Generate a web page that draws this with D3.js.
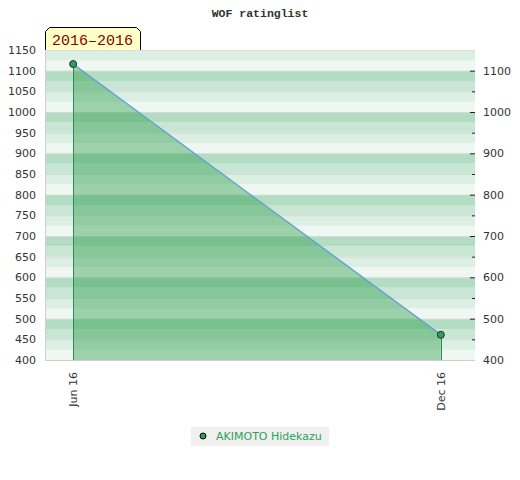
<!DOCTYPE html>
<html><head><meta charset="utf-8">
<script src="https://cdn.jsdelivr.net/npm/d3@7"></script>
<style>body{margin:0;background:#fff}svg{display:block}</style>
</head><body>
<svg id="c" width="520" height="480"></svg>
<script>
const title = "WOF ratinglist";
const rangeLabel = "2016–2016";
const playerName = "AKIMOTO Hidekazu";
const dateStrings = ["2016-06-01", "2016-12-01"];
const ratings = [1116, 461];
const yTicksLeft = [400,450,500,550,600,650,700,750,800,850,900,950,1000,1050,1100,1150];
const yTicksRight = [400,500,600,700,800,900,1000,1100];
const bandColors = ["#eef7f1", "#dcefe3", "#c8e6d3", "#b2ddc3"];

const parse = d3.timeParse("%Y-%m-%d");
const dates = dateStrings.map(parse);
const data = dates.map((d, i) => ({date: d, value: ratings[i]}));

const W = 520, H = 480;
const m = {left: 45, right: 475, top: 50, bottom: 360};
const svg = d3.select("#c");

const x = d3.scaleTime()
  .domain([new Date(2016, 4, 18), new Date(2016, 11, 18)])
  .range([m.left, m.right]);
const y = d3.scaleLinear().domain([400, 1150]).range([m.bottom, m.top]);

// title
svg.append("text").attr("x", 260).attr("y", 17).attr("text-anchor", "middle")
  .attr("font-family", "Liberation Mono").attr("font-weight", "bold").attr("font-size", 11.5)
  .attr("fill", "#333").text(title);

// bands
const bands = d3.range(400, 1150, 25);
svg.append("g").selectAll("rect").data(bands).join("rect")
  .attr("x", m.left).attr("width", m.right - m.left)
  .attr("y", d => y(d + 25)).attr("height", d => y(d) - y(d + 25))
  .attr("fill", d => bandColors[(d % 100) / 25]);

// grid lines
svg.append("g").selectAll("line").data(yTicksLeft.slice(1, -1)).join("line")
  .attr("x1", m.left).attr("x2", m.right)
  .attr("y1", d => y(d) + 0.5).attr("y2", d => y(d) + 0.5)
  .attr("stroke", "#d6d9d7").attr("stroke-width", 1);

// border
svg.append("path")
  .attr("d", `M${m.left + 0.5},${m.top}V${m.bottom + 0.5}H${m.right}`)
  .attr("fill", "none").attr("stroke", "#cfcfcf");
svg.append("line").attr("x1", m.left).attr("x2", m.right)
  .attr("y1", m.top + 0.5).attr("y2", m.top + 0.5).attr("stroke", "#dcdcdc");

// left axis labels
const yl = svg.append("g").attr("transform", `translate(${m.left},0)`)
  .call(d3.axisLeft(y).tickValues(yTicksLeft).tickSize(0).tickPadding(9).tickFormat(d3.format("d")));
yl.select(".domain").remove();
yl.selectAll("text").attr("font-family", "DejaVu Sans").attr("font-size", 11).attr("fill", "#333");

// right axis
const yr = svg.append("g").attr("transform", `translate(${m.right},0)`)
  .call(d3.axisRight(y).tickValues(yTicksRight).tickSize(0).tickPadding(8).tickFormat(d3.format("d")));
yr.select(".domain").remove();
yr.selectAll("text").attr("font-family", "DejaVu Sans").attr("font-size", 11).attr("fill", "#333");
svg.append("g").selectAll("line").data(yTicksLeft.slice(1, -1)).join("line")
  .attr("x1", d => d % 100 === 0 ? m.right - 5 : m.right - 3).attr("x2", m.right)
  .attr("y1", d => y(d) + 0.5).attr("y2", d => y(d) + 0.5)
  .attr("stroke", "#222").attr("stroke-width", 1);

// x axis labels
const xa = svg.append("g").attr("transform", `translate(0,${m.bottom})`)
  .call(d3.axisBottom(x).tickValues(dates).tickSize(0).tickFormat(d3.timeFormat("%b %y")));
xa.select(".domain").remove();
xa.selectAll("text")
  .attr("font-family", "DejaVu Sans").attr("font-size", 11).attr("fill", "#333")
  .attr("text-anchor", "end").attr("transform", "translate(0,12) rotate(-90)")
  .attr("x", 0).attr("y", 0).attr("dy", "0.35em");

// area
const area = d3.area().x(d => x(d.date)).y0(y(400)).y1(d => y(d.value));
svg.append("path").datum(data).attr("d", area).attr("fill", "rgba(32,152,64,0.4)");

// vertical drop lines
svg.append("g").selectAll("line").data(data).join("line")
  .attr("x1", d => Math.round(x(d.date)) + 0.5).attr("x2", d => Math.round(x(d.date)) + 0.5)
  .attr("y1", d => y(d.value)).attr("y2", y(400))
  .attr("stroke", "#2e8b57").attr("stroke-width", 1);

// line
const line = d3.line().x(d => x(d.date)).y(d => y(d.value));
svg.append("path").datum(data).attr("d", line)
  .attr("fill", "none").attr("stroke", "#5b9fd6").attr("stroke-width", 1.3);

// points
svg.append("g").selectAll("circle").data(data).join("circle")
  .attr("cx", d => x(d.date)).attr("cy", d => y(d.value)).attr("r", 3.5)
  .attr("fill", "#2ea05a").attr("stroke", "#1c3324").attr("stroke-width", 1);

// range label box
const bx0 = 45.5, bx1 = 140.5, by0 = 27.5, by1 = 50;
svg.append("path")
  .attr("d", `M${bx0},${by1}V${by0 + 4}L${bx0 + 4},${by0}H${bx1 - 4}L${bx1},${by0 + 4}V${by1}`)
  .attr("fill", "#ffffc6").attr("stroke", "#000").attr("stroke-width", 1);
svg.append("text").attr("x", 52).attr("y", 45)
  .attr("font-family", "Liberation Mono").attr("font-size", 15).attr("fill", "#8b0000")
  .text(rangeLabel);

// legend
svg.append("rect").attr("x", 191).attr("y", 427).attr("width", 138).attr("height", 19).attr("fill", "#f0f0f0");
svg.append("circle").attr("cx", 203).attr("cy", 436).attr("r", 3)
  .attr("fill", "#2ea05a").attr("stroke", "#000").attr("stroke-width", 1);
svg.append("text").attr("x", 216).attr("y", 440)
  .attr("font-family", "DejaVu Sans").attr("font-size", 11).attr("fill", "#2ea05a")
  .text(playerName);
</script>
</body></html>
